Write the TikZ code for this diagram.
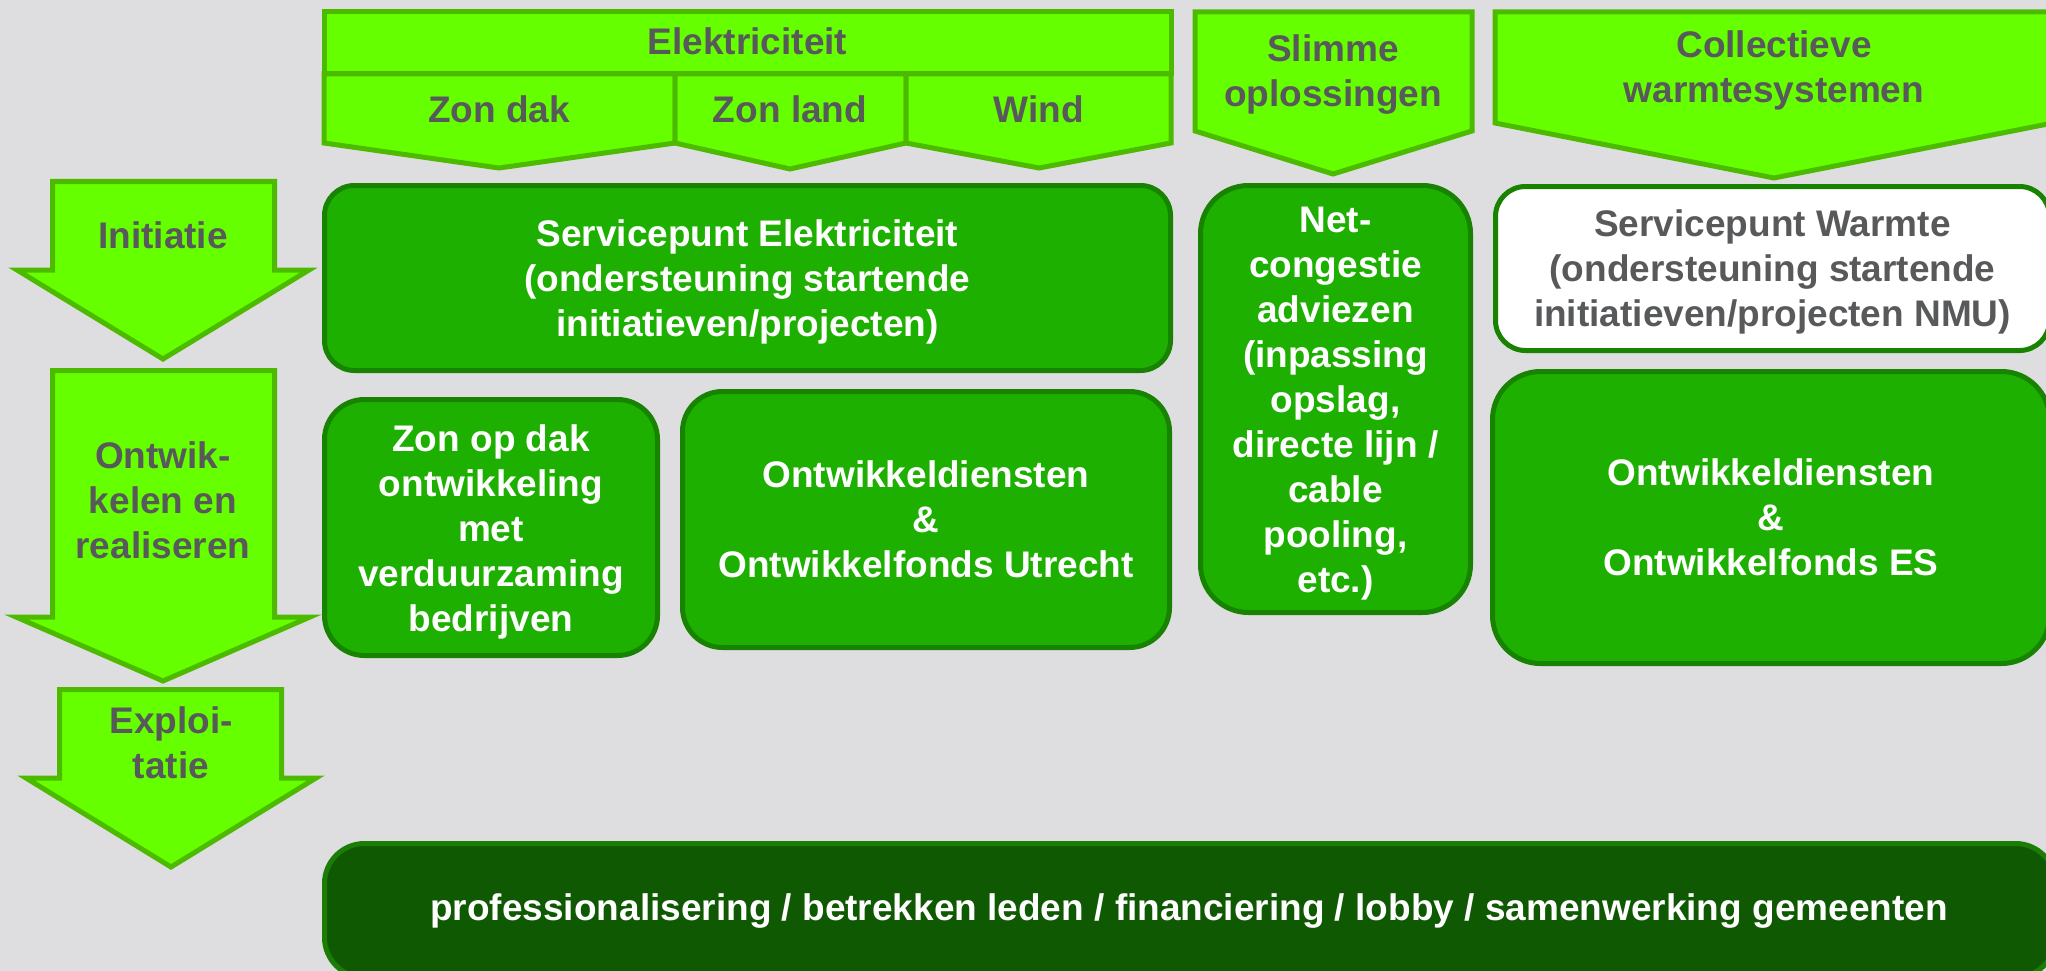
\documentclass[tikz,border=0pt]{standalone}
\usepackage{fontspec}
\setmainfont{Liberation Sans}
\usetikzlibrary{positioning}
\definecolor{bggray}{HTML}{DEDEE0}
\definecolor{limefill}{HTML}{66FF00}
\definecolor{limeline}{HTML}{4CBB00}
\definecolor{boxfill}{HTML}{1EB000}
\definecolor{boxline}{HTML}{178300}
\definecolor{barfill}{HTML}{0F5903}
\definecolor{barline}{HTML}{1B7D05}
\definecolor{labelgray}{HTML}{58595B}

\begin{document}
\begin{tikzpicture}[x=1pt,y=-1pt,every node/.style={font=\fontsize{37}{45}\selectfont\bfseries,align=center,inner sep=0pt},
  hdr/.style={fill=limefill,draw=limeline,line width=5pt},
  lbl/.style={text=labelgray},
  wtxt/.style={text=white},
  box/.style={rectangle,fill=boxfill,draw=boxline,line width=5pt},
  darkbar/.style={rectangle,fill=barfill,draw=barline,line width=5pt}]
\fill[bggray] (0,0) rectangle (2046,971);
\useasboundingbox (0,0) rectangle (2046,971);
\clip (0,0) rectangle (2046,971);
\draw[hdr] (52.5,181.5) -- (274.5,181.5) -- (274.5,270) -- (309,270) -- (163,359) -- (17,270) -- (52.5,270) -- cycle;
\draw[hdr] (52.5,370.5) -- (274.5,370.5) -- (274.5,617) -- (310,617) -- (163,681) -- (16,617) -- (52.5,617) -- cycle;
\draw[hdr] (59.5,689.5) -- (281.5,689.5) -- (281.5,778) -- (316,778) -- (171,867) -- (26,778) -- (59.5,778) -- cycle;
\node[lbl,anchor=base] (initiatie) at (163,248) {Initiatie};
\node[lbl] (ontwikkelen) at (163,500) {Ontwik-\\kelen en\\realiseren};
\node[lbl] (exploitatie) at (171,742.5) {Exploi-\\tatie};
\draw[hdr] (324,12) rectangle (1171,74);
\draw[hdr] (324,74) -- (675,74) -- (675,143) -- (499,168) -- (324,143) -- cycle;
\draw[hdr] (675,74) -- (906,74) -- (906,143) -- (790,169) -- (675,143) -- cycle;
\draw[hdr] (906,74) -- (1171,74) -- (1171,143) -- (1039,168) -- (906,143) -- cycle;
\draw[hdr] (1195,12) -- (1472,12) -- (1472,131) -- (1333,174) -- (1195,131) -- cycle;
\draw[hdr] (1495,12) -- (2053,12) -- (2053,123) -- (1774,178) -- (1495,123) -- cycle;
\node[lbl,anchor=base] (elek) at (747.5,55) {Elektriciteit};
\node[lbl,anchor=base] (zondak) at (499,123) {Zon dak};
\node[lbl,anchor=base] (zonland) at (790,123) {Zon land};
\node[lbl,anchor=base] (wind) at (1039,123) {Wind};
\node[lbl] (slim) at (1333,75) {Slimme\\oplossingen};
\node[lbl] (warmte) at (1774,70) {Collectieve\\warmtesystemen};
\node[box,rounded corners=30,minimum width=846,minimum height=185] (spelek) at (747.5,278) {};
\node[wtxt] (spelektxt) at ([yshift=-4.4pt]spelek.center) {Servicepunt Elektriciteit\\(ondersteuning startende\\initiatieven/projecten)};
\node[box,rounded corners=40,minimum width=333,minimum height=256] (zonopdak) at (491,527.5) {};
\node[wtxt] (zonopdaktxt) at ([yshift=-4.7pt]zonopdak.center) {Zon op dak\\ontwikkeling\\met\\verduurzaming\\bedrijven};
\node[box,rounded corners=40,minimum width=487,minimum height=256] (ontwutr) at (926,519.5) {};
\node[wtxt] (ontwutrtxt) at (ontwutr.center) {Ontwikkeldiensten\\\&\\Ontwikkelfonds Utrecht};
\node[box,rounded corners=48,minimum width=270,minimum height=427] (netcong) at (1335.5,399) {};
\node[wtxt] (netcongtxt) at ([yshift=-4.6pt]netcong.center) {Net-\\congestie\\adviezen\\(inpassing\\opslag,\\directe lijn /\\cable\\pooling,\\etc.)};
\node[box,fill=white,rounded corners=30,minimum width=554,minimum height=164] (spwarmte) at (1772.5,268.5) {};
\node[lbl] (spwarmtetxt) at ([yshift=-3.9pt]spwarmte.center) {Servicepunt Warmte\\(ondersteuning startende\\initiatieven/projecten NMU)};
\node[box,rounded corners=48,minimum width=557,minimum height=292] (ontwes) at (1771,517.5) {};
\node[wtxt] (ontwestxt) at (ontwes.center) {Ontwikkeldiensten\\\&\\Ontwikkelfonds ES};
\node[darkbar,rounded corners=40,minimum width=1731,minimum height=134] (algemeen) at (1190,910.5) {};
\node[wtxt,anchor=base] (algemeentxt) at (1189,920) {professionalisering / betrekken leden / financiering / lobby / samenwerking gemeenten};
\end{tikzpicture}
\end{document}
